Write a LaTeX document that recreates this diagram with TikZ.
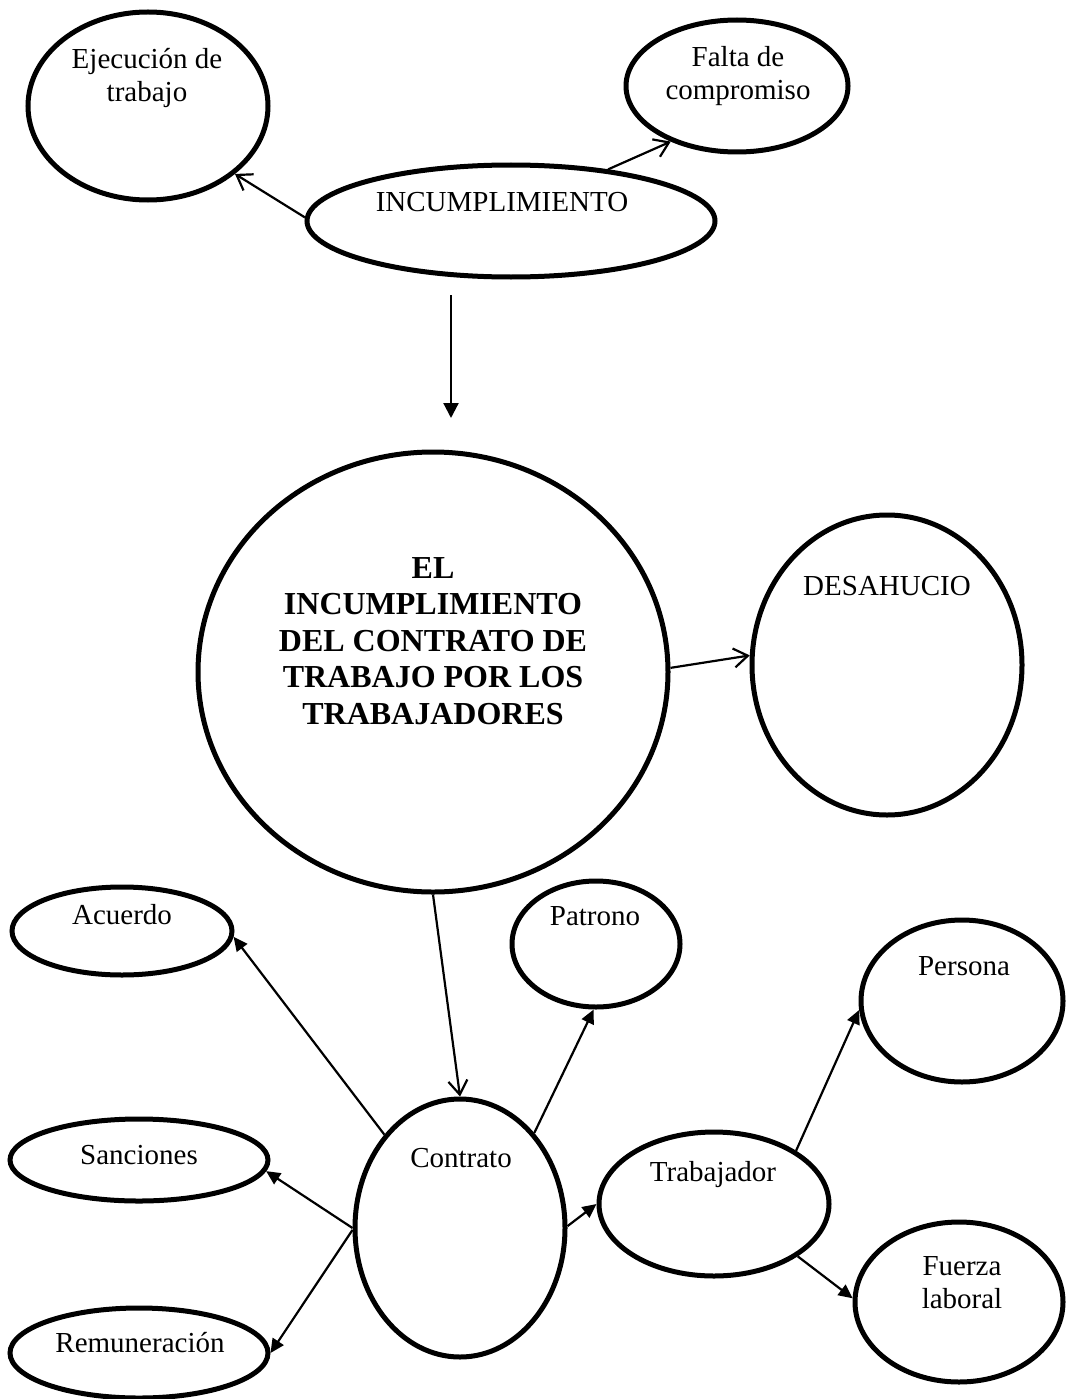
\documentclass[tikz,border=0pt]{standalone}
\usepackage{fontspec}
\setmainfont{Liberation Serif}
\usetikzlibrary{arrows.meta,shapes.geometric}
\begin{document}
\begin{tikzpicture}[x=1pt,y=-1pt,
  oval/.style={ellipse, draw, line width=5pt, inner sep=0pt},
  lbl/.style={font=\fontsize{29}{33}\selectfont, align=center, inner sep=0pt},
  bigtxt/.style={font=\fontsize{32}{36.5}\selectfont\bfseries, align=center, inner sep=0pt},
  link/.style={line width=2.2pt},
  openhead/.style={link, -{Straight Barb[length=14pt,width=19pt]}},
  fillhead/.style={link, -{Triangle[length=14pt,width=13pt]}},
]
\useasboundingbox (0,0) rectangle (1065,1399);

% ellipses
\node[oval, minimum width=240pt, minimum height=188pt] (ejec) at (148,106) {};
\node[oval, minimum width=222pt, minimum height=132pt] (falta) at (737,86) {};
\node[oval, minimum width=408pt, minimum height=112pt] (incum) at (511,221) {};
\node[oval, minimum width=470pt, minimum height=440pt] (main) at (433,672) {};
\node[oval, minimum width=270pt, minimum height=300pt] (desah) at (887,665) {};
\node[oval, minimum width=220pt, minimum height=88pt] (acuer) at (122,931) {};
\node[oval, minimum width=168pt, minimum height=126pt] (patron) at (596,944) {};
\node[oval, minimum width=202pt, minimum height=162pt] (perso) at (962,1001) {};
\node[oval, minimum width=210pt, minimum height=258pt] (contr) at (460,1228) {};
\node[oval, minimum width=258pt, minimum height=82pt] (sanci) at (139,1160) {};
\node[oval, minimum width=230pt, minimum height=144pt] (trab) at (714,1204) {};
\node[oval, minimum width=258pt, minimum height=90pt] (remun) at (139,1353) {};
\node[oval, minimum width=208pt, minimum height=160pt] (fuerza) at (959,1302) {};

% texts
\node[lbl] (ejec-t) at (147,78) {Ejecución de\\trabajo};
\node[lbl] (falta-t) at (738,76) {Falta de\\compromiso};
\node[lbl] (incum-t) at (502,202) {INCUMPLIMIENTO};
\node[bigtxt] (main-t) at (433,641) {EL\\INCUMPLIMIENTO\\DEL CONTRATO DE\\TRABAJO POR LOS\\TRABAJADORES};
\node[lbl] (desah-t) at (887,586) {DESAHUCIO};
\node[lbl] (acuer-t) at (122,915) {Acuerdo};
\node[lbl] (patron-t) at (595,916) {Patrono};
\node[lbl] (perso-t) at (964,966) {Persona};
\node[lbl] (contr-t) at (461,1158) {Contrato};
\node[lbl] (sanci-t) at (139,1155) {Sanciones};
\node[lbl] (trab-t) at (713,1175) {Trabajador};
\node[lbl] (remun-t) at (140,1343) {Remuneración};
\node[lbl] (fuerza-t) at (962,1283) {Fuerza\\laboral};

% free-standing arrow
\coordinate (down-a) at (451,295);
\coordinate (down-b) at (451,418);

% connectors
\draw[openhead] (incum.179) -- (ejec.-38);
\draw[openhead] (incum.28) -- (falta.220);
\draw[link, -{Triangle[length=15pt,width=15pt]}] (down-a) -- (down-b);
\draw[openhead] (main.1) -- (desah.176);
\draw[openhead] (main.south) -- (contr.north);
\draw[fillhead] (contr.129) -- (acuer.-3);
\draw[fillhead] (contr.52) -- (patron.268);
\draw[fillhead] (contr.180) -- (sanci.-5);
\draw[fillhead] (contr.181) -- (remun.0);
\draw[fillhead] (contr.1) -- (trab.180);
\draw[fillhead] (trab.33) -- (perso.185);
\draw[fillhead] (trab.-32) -- (fuerza.178);
\end{tikzpicture}
\end{document}
